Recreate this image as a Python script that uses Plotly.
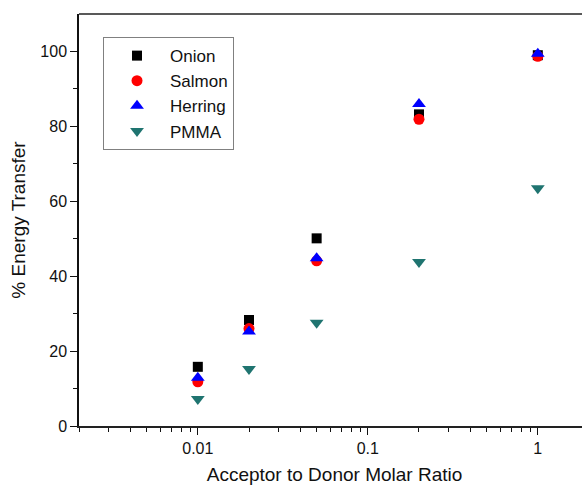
import plotly.graph_objects as go
import math

ratios = [0.01, 0.02, 0.05, 0.2, 1.0]
onion = [15.8, 28.3, 50.1, 83.2, 99.0]
salmon = [11.8, 26.0, 44.1, 81.9, 98.7]
herring = [12.9, 25.2, 44.8, 86.0, 99.4]
pmma = [7.2, 15.2, 27.6, 43.8, 63.5]

x_tickvals = [0.01, 0.1, 1]
x_ticktext = ["0.01", "0.1", "1"]

FONT = "Arial, Liberation Sans, sans-serif"

series = [
    ("Onion", onion, "square", "#000000", 10),
    ("Salmon", salmon, "circle", "#ff0000", 11),
    ("Herring", herring, "triangle-up", "#0000ff", 12),
    ("PMMA", pmma, "triangle-down", "#1f7470", 12),
]

fig = go.Figure()
for name, vals, sym, col, sz in series:
    fig.add_trace(go.Scatter(
        x=ratios, y=vals, mode="markers", name=name,
        marker=dict(symbol=sym, color=col, size=sz, line=dict(width=0)),
    ))

# The original plot frame runs past the right edge of the picture,
# so the figure is a little wider than the 582 px window and its right side is clipped.
fig.update_layout(
    width=590, height=485,
    margin=dict(l=79, r=0, t=14, b=59),
    paper_bgcolor="white", plot_bgcolor="white",
    font=dict(family=FONT, color="#111111"),
    showlegend=True,
    legend=dict(
        x=0.047, y=0.944, xanchor="left", yanchor="top",
        bgcolor="white", bordercolor="#808080", borderwidth=1,
        font=dict(size=17, family=FONT, color="#111111"),
        itemwidth=56, tracegroupgap=0,
    ),
    shapes=[dict(type="line", xref="paper", yref="paper", x0=0, x1=1, y0=1, y1=1,
                 line=dict(color="#222222", width=1.5))],
)

fig.update_xaxes(
    type="log", automargin=False,
    range=[math.log10(0.002), 0.307],
    tickvals=x_tickvals, ticktext=x_ticktext,
    ticks="outside", ticklen=7, tickwidth=1.3, tickcolor="#111111",
    minor=dict(ticks="outside", ticklen=4, tickwidth=1.2, tickcolor="#111111", dtick="D1", showgrid=False),
    showline=True, linecolor="#222222", linewidth=1.5, mirror=False,
    showgrid=False, zeroline=False,
    tickfont=dict(size=16, family=FONT, color="#111111"),
    title=dict(text="Acceptor to Donor Molar Ratio", font=dict(size=19, family=FONT, color="#111111"), standoff=20),
)

fig.update_yaxes(
    automargin=False,
    range=[0, 110],
    tickvals=[0, 20, 40, 60, 80, 100],
    ticks="outside", ticklen=7, tickwidth=1.3, tickcolor="#111111",
    minor=dict(ticks="outside", ticklen=4, tickwidth=1.2, tickcolor="#111111", tickvals=[10, 30, 50, 70, 90], showgrid=False),
    showline=True, linecolor="#111111", linewidth=1.5, mirror=False,
    showgrid=False, zeroline=False,
    tickfont=dict(size=16, family=FONT, color="#111111"),
    title=dict(text="% Energy Transfer", font=dict(size=19, family=FONT, color="#111111"), standoff=10),
)

fig.write_html(
    "out.html",
    config={"displayModeBar": False},
    post_script="document.body.style.margin='0';document.body.style.overflow='hidden';document.documentElement.style.overflow='hidden';",
)
